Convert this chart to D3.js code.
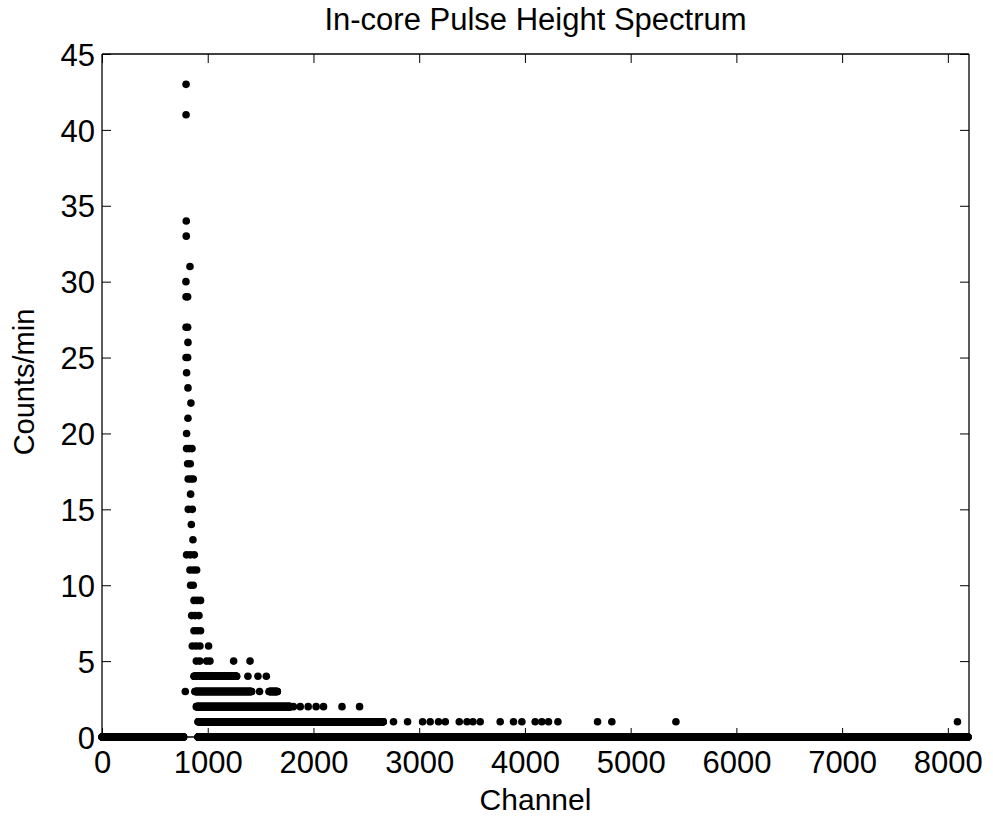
<!DOCTYPE html>
<html>
<head>
<meta charset="utf-8">
<script src="https://cdn.jsdelivr.net/npm/d3@7"></script>
<style>
  html, body { margin: 0; padding: 0; background: #fff; }
  text { font-family: "Liberation Sans", Arial, Helvetica, sans-serif; fill: #000; }
</style>
</head>
<body>
<svg id="chart" width="993" height="822"></svg>
<script>
// ---------------- DATA ----------------
const title = "In-core Pulse Height Spectrum";
const xLabel = "Channel";
const yLabel = "Counts/min";
const xTicks = [0, 1000, 2000, 3000, 4000, 5000, 6000, 7000, 8000];
const yTicks = [0, 5, 10, 15, 20, 25, 30, 35, 40, 45];

// channel ranges whose count is zero (each channel in the range is a point at 0)
const zeroRanges = [[0, 772], [908, 8191]];

// isolated points: [channel, counts/min]
const peakPoints = [
  [795, 43], [795, 41], [797, 34], [797, 33], [832, 31], [794, 30],
  [795, 29], [810, 29], [795, 27], [810, 27], [813, 26], [795, 25], [810, 25],
  [800, 24], [813, 23], [841, 22], [813, 21], [800, 20],
  [800, 19], [825, 19], [851, 19], [810, 18], [835, 18],
  [815, 17], [840, 17], [863, 17], [838, 16], [816, 15], [854, 15], [845, 14],
  [860, 13], [800, 12], [835, 12], [873, 12], [832, 11], [865, 11], [895, 11],
  [838, 10], [863, 10], [870, 9], [900, 9], [932, 9], [848, 8], [880, 8], [917, 8],
  [870, 7], [900, 7], [932, 7], [854, 6], [890, 6], [926, 6], [1008, 6],
  [892, 5], [925, 5], [990, 5], [1021, 5], [1245, 5], [1400, 5],
  [1380, 4], [1475, 4], [1554, 4],
  [788, 3], [1490, 3],
  [1810, 2], [1875, 2], [1950, 2], [2025, 2], [2095, 2], [2270, 2], [2436, 2],
  [2757, 1], [2890, 1], [3032, 1], [3104, 1], [3183, 1], [3247, 1],
  [3379, 1], [3452, 1], [3508, 1], [3577, 1], [3766, 1], [3892, 1], [3971, 1],
  [4097, 1], [4160, 1], [4223, 1], [4312, 1], [4687, 1], [4822, 1], [5428, 1],
  [8091, 1]
];

// dense bands: [counts/min, first channel, last channel] (continuous run of dots)
const denseRuns = [
  [4, 870, 1273],
  [3, 879, 1415],
  [3, 1580, 1658],
  [2, 892, 1780],
  [1, 908, 2660]
];

// ---------------- CHART ----------------
const svg = d3.select("#chart");
const mLeft = 102, mRight = 969, mTop = 54, mBottom = 737;

const x = d3.scaleLinear().domain([0, 8200]).range([mLeft, mRight]);
const y = d3.scaleLinear().domain([0, 45]).range([mBottom, mTop]);

// expand data to points
const points = [];
zeroRanges.forEach(([a, b]) => { for (let c = a; c <= b; c++) points.push([c, 0]); });
denseRuns.forEach(([v, a, b]) => { for (let c = a; c <= b; c += 3) points.push([c, v]); points.push([b, v]); });
peakPoints.forEach(p => points.push(p));

svg.append("g")
  .selectAll("circle")
  .data(points)
  .join("circle")
  .attr("cx", d => x(d[0]))
  .attr("cy", d => y(d[1]))
  .attr("r", 3.8)
  .attr("fill", "#000");

// axes (box with inward ticks on all sides)
const tickLen = 9;
const fs = 31;
const axB = svg.append("g").attr("transform", `translate(0,${mBottom})`)
  .call(d3.axisBottom(x).tickValues(xTicks).tickSize(-tickLen).tickFormat(d3.format("d")));
const axT = svg.append("g").attr("transform", `translate(0,${mTop})`)
  .call(d3.axisTop(x).tickValues(xTicks).tickSize(-tickLen).tickFormat(""));
const axL = svg.append("g").attr("transform", `translate(${mLeft},0)`)
  .call(d3.axisLeft(y).tickValues(yTicks).tickSize(-tickLen).tickPadding(7).tickFormat(d3.format("d")));
const axR = svg.append("g").attr("transform", `translate(${mRight},0)`)
  .call(d3.axisRight(y).tickValues(yTicks).tickSize(-tickLen).tickFormat(""));

[axB, axT, axL, axR].forEach(g => {
  g.select(".domain").attr("stroke", "#000").attr("stroke-width", 1.3);
  g.selectAll(".tick line").attr("stroke", "#000").attr("stroke-width", 1);
  g.selectAll(".tick text")
    .style("font-family", '"Liberation Sans", Arial, sans-serif')
    .style("font-size", fs + "px")
    .attr("fill", "#000");
});
axB.selectAll(".tick text").attr("dy", null).attr("y", 36);
axL.selectAll(".tick text").attr("dy", "0.36em");
[axB, axT].forEach(g => g.select(".domain").attr("d", `M${mLeft},0H${mRight}`));
[axL, axR].forEach(g => g.select(".domain").attr("d", `M0,${mTop}V${mBottom}`));

// title and labels
svg.append("text")
  .attr("x", (mLeft + mRight) / 2).attr("y", 30)
  .attr("text-anchor", "middle")
  .style("font-size", "31px")
  .text(title);

svg.append("text")
  .attr("x", (mLeft + mRight) / 2).attr("y", 810)
  .attr("text-anchor", "middle")
  .style("font-size", "30px")
  .text(xLabel);

svg.append("text")
  .attr("transform", `translate(34,382) rotate(-90)`)
  .attr("text-anchor", "middle")
  .style("font-size", "29px")
  .text(yLabel);
</script>
</body>
</html>
